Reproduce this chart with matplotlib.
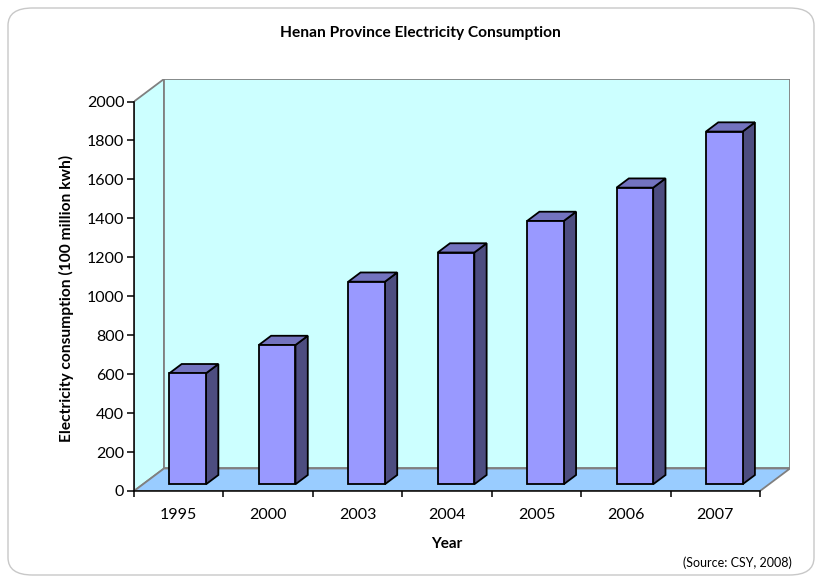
import matplotlib
matplotlib.use("Agg")
import matplotlib.pyplot as plt
from matplotlib.patches import Polygon, Rectangle, FancyBboxPatch

years = ["1995", "2000", "2003", "2004", "2005", "2006", "2007"]
consumption = [570, 715, 1040, 1190, 1352, 1523, 1811]
y_ticks = [0, 200, 400, 600, 800, 1000, 1200, 1400, 1600, 1800, 2000]

title = "Henan Province Electricity Consumption"
y_label = "Electricity consumption (100 million kwh)"
x_label = "Year"
source = "(Source: CSY, 2008)"

plt.rcParams["font.family"] = ["Lato", "DejaVu Sans"]

W, H, DPI = 819, 579, 100
fig = plt.figure(figsize=(W / DPI, H / DPI), dpi=DPI)

# rounded chart-area border
fig.patches.append(FancyBboxPatch((8 / W, 4 / H), 806 / W, 567 / H,
                                  boxstyle="round,pad=0,rounding_size=0.03",
                                  transform=fig.transFigure, facecolor="none",
                                  edgecolor="#c8c8c8", linewidth=1.0, zorder=-1))

# oblique depth of the 3-D box, in data units
n = len(years)
ymax = 2000
DX = 0.3355          # category units
DY = 115.6           # value units

left_px, right_px, top_px, bot_px = 134, 790, 79, 491
ax = fig.add_axes([left_px / W, (H - bot_px) / H,
                   (right_px - left_px) / W, (bot_px - top_px) / H])
ax.set_xlim(0, n + DX)
ax.set_ylim(0, ymax + DY)
ax.patch.set_visible(False)

wall_col = "#CCFFFF"
floor_col = "#99CCFF"
edge_gray = "#808080"

# side wall, back wall, floor
ax.add_patch(Polygon([(0, 0), (DX, DY), (DX, ymax + DY), (0, ymax)], closed=True,
                     facecolor=wall_col, edgecolor=edge_gray, linewidth=1.3, zorder=1))
ax.add_patch(Rectangle((DX, DY), n, ymax, facecolor=wall_col,
                       edgecolor=edge_gray, linewidth=1.3, zorder=1))
ax.add_patch(Polygon([(0, 0), (n, 0), (n + DX, DY), (DX, DY)], closed=True,
                     facecolor=floor_col, edgecolor=edge_gray, linewidth=1.3, zorder=1.5))

# 3-D columns
bar_w = 0.41
f0, fd = 0.30, 0.41
front_col, top_col, side_col = "#9999FF", "#7373BF", "#4D4D80"
for i, v in enumerate(consumption):
    x0 = i + 0.5 - bar_w / 2 + f0 * DX
    y0 = f0 * DY
    ddx, ddy = fd * DX, fd * DY
    kw = dict(edgecolor="black", linewidth=1.3, joinstyle="miter", zorder=3)
    ax.add_patch(Polygon([(x0 + bar_w, y0), (x0 + bar_w + ddx, y0 + ddy),
                          (x0 + bar_w + ddx, y0 + v + ddy), (x0 + bar_w, y0 + v)],
                         closed=True, facecolor=side_col, **kw))
    ax.add_patch(Polygon([(x0, y0 + v), (x0 + bar_w, y0 + v),
                          (x0 + bar_w + ddx, y0 + v + ddy), (x0 + ddx, y0 + v + ddy)],
                         closed=True, facecolor=top_col, **kw))
    ax.add_patch(Rectangle((x0, y0), bar_w, v, facecolor=front_col, **kw))

# front axes
for s in ["top", "right"]:
    ax.spines[s].set_visible(False)
ax.spines["left"].set_bounds(0, ymax)
ax.spines["bottom"].set_bounds(0, n)
for s in ["left", "bottom"]:
    ax.spines[s].set_color("black")
    ax.spines[s].set_linewidth(1.1)
    ax.spines[s].set_zorder(4)

ax.set_yticks(y_ticks)
ax.set_yticklabels([str(t) for t in y_ticks])
ax.tick_params(axis="y", length=5, width=1.1, pad=2, labelsize=11.5)

ax.set_xticks(range(n + 1))
ax.set_xticklabels([])
ax.set_xticks([i + 0.5 for i in range(n)], minor=True)
ax.set_xticklabels(years, minor=True)
ax.tick_params(axis="x", which="major", length=4.5, width=1.1)
ax.tick_params(axis="x", which="minor", length=0, pad=12, labelsize=11.5)

fig.text(420 / W, 1 - 33 / H, title, ha="center", va="center",
         fontsize=11.2, fontweight="bold")
fig.text(66 / W, 1 - 298 / H, y_label, ha="center", va="center",
         rotation=90, fontsize=11.2, fontweight="bold")
fig.text(447 / W, 1 - 544 / H, x_label, ha="center", va="center",
         fontsize=11, fontweight="bold")
fig.text(792 / W, 1 - 563 / H, source, ha="right", va="center", fontsize=9)

fig.savefig("out.png", dpi=DPI)
